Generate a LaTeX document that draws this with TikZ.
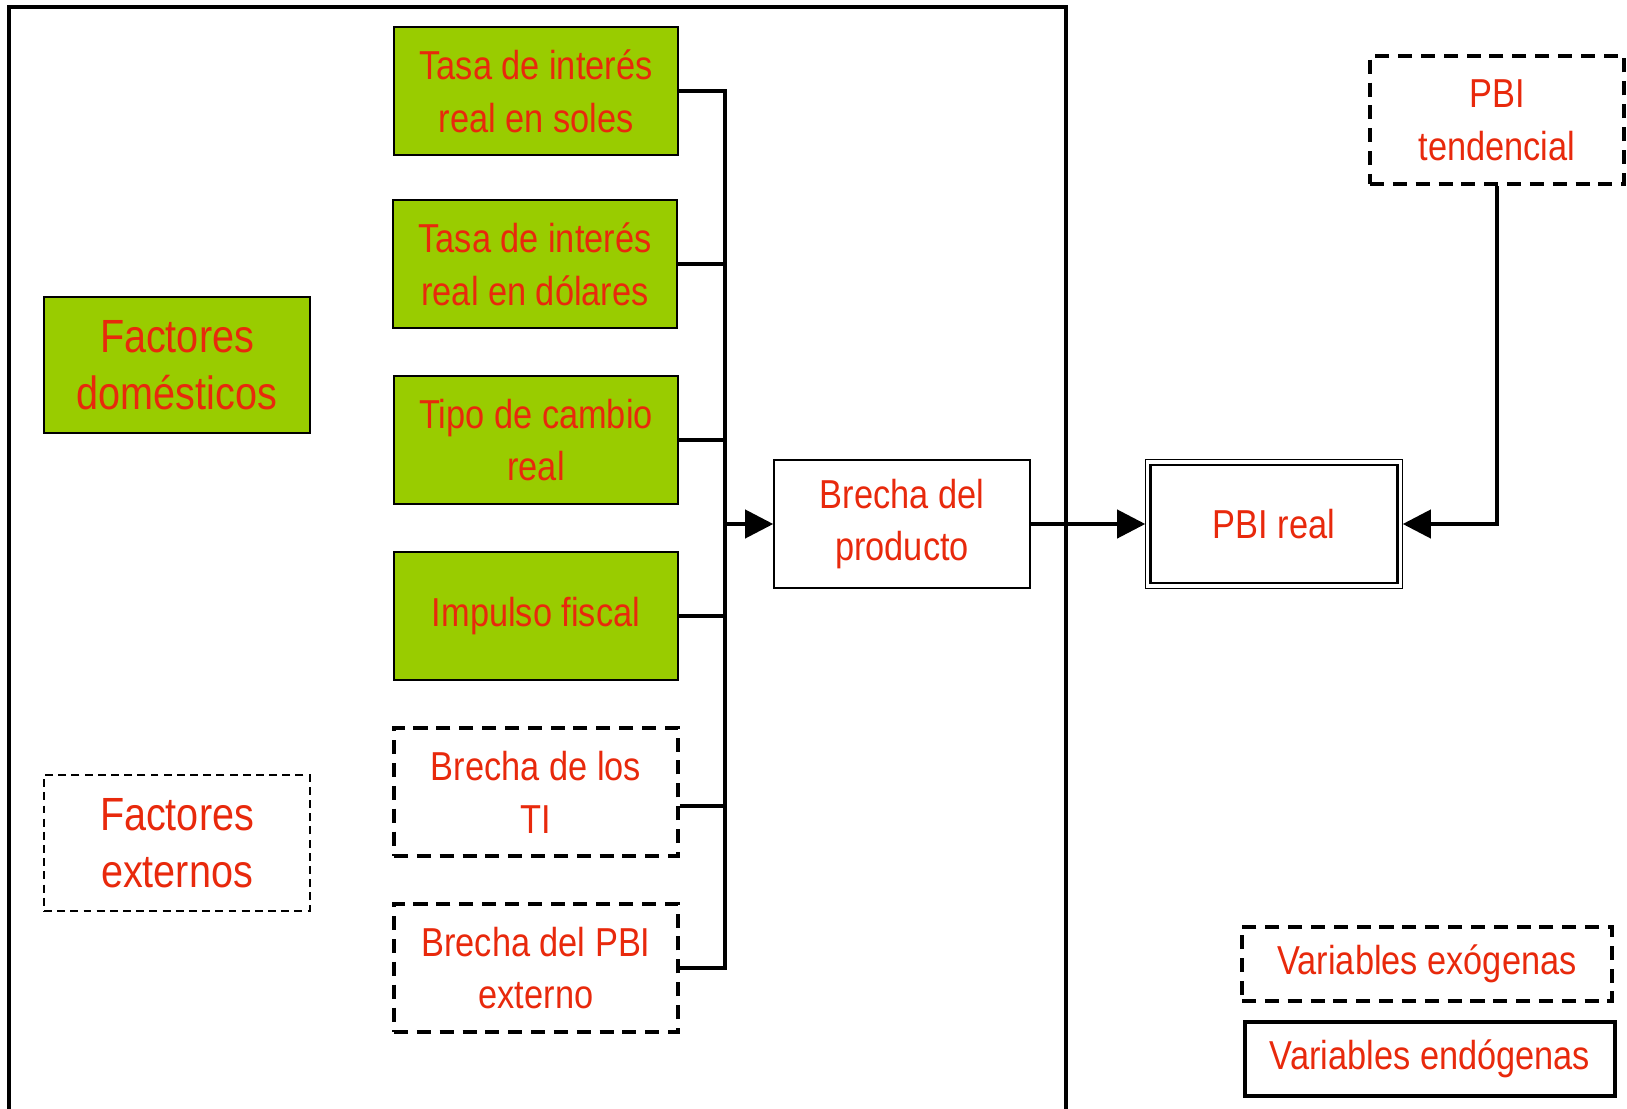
\documentclass[tikz,border=0pt]{standalone}
\usepackage{fontspec}
\setmainfont{Liberation Sans}[FakeStretch=0.85]
\usetikzlibrary{arrows.meta}
\definecolor{textred}{HTML}{E8290C}
\definecolor{boxgreen}{HTML}{99CC00}
\tikzstyle{block}=[rectangle, draw, inner sep=0pt, minimum width=5.68cm, minimum height=2.56cm, align=center, text=textred, font=\fontsize{23}{30}\selectfont]
\tikzstyle{greenbox}=[block, fill=boxgreen, line width=1.1pt]
\tikzstyle{exobox}=[block, line width=2.2pt, dash pattern=on 8pt off 5pt]
\tikzstyle{factor}=[block, minimum width=5.32cm, minimum height=2.72cm, font=\fontsize{26.5}{32.5}\selectfont]
\tikzstyle{legendbox}=[block, minimum width=7.4cm, minimum height=1.48cm, line width=2pt]
\tikzstyle{bus}=[line width=2.2pt, line join=miter]
\tikzstyle{arr}=[line width=2.2pt, line join=miter, -{Triangle[length=16pt,width=16pt]}]
\newcommand{\greenbox}{\node[greenbox]}
\newcommand{\exobox}{\node[exobox]}

\begin{document}
\begin{tikzpicture}[x=0.02cm, y=-0.02cm]
    \useasboundingbox (0,0) rectangle (1627,1109);
    % marco
    \draw[line width=2.3pt] (9,1120) -- (9,7) -- (1066,7) -- (1066,1120);
    % factores
    \node[factor, fill=boxgreen, line width=1.1pt] (fdom) at (177,365) {Factores\\dom\'esticos};
    \node[factor, line width=0.9pt, dash pattern=on 4.5pt off 3pt] (fext) at (177,843) {Factores\\externos};
    % variables
    \greenbox (tasasol) at (536,91) {Tasa de inter\'es\\real en soles};
    \greenbox (tasadol) at (535,264) {Tasa de inter\'es\\real en d\'olares};
    \greenbox (tcambio) at (536,440) {Tipo de cambio\\real};
    \greenbox (impulso) at (536,616) {Impulso fiscal};
    \exobox (brechati) at (536,792) {Brecha de los\\TI};
    \exobox (brechapbi) at (536,968) {Brecha del PBI\\externo};
    \node[block, minimum width=5.12cm, line width=0.9pt] (brecha) at (902,524) {Brecha del\\producto};
    \node[block, minimum width=4.94cm, minimum height=2.36cm, line width=1.6pt, outer sep=3pt] (pbireal) at (1274,524) {PBI real};
    \draw[line width=0.8pt] (pbireal.north west) rectangle (pbireal.south east);
    \exobox (pbitend) at (1497,120) [minimum width=5.08cm] {PBI\\tendencial};
    % leyenda
    \node[legendbox, dash pattern=on 8pt off 5pt] (lexo) at (1427,964) {Variables ex\'ogenas};
    \node[legendbox] (lendo) at (1430,1059) {Variables end\'ogenas};
    % conexiones
    \coordinate (bt) at (725,91);
    \coordinate (bb) at (725,968);
    \draw[bus] (tasasol.east) -- (bt) -- (bb) -- (brechapbi.east);
    \path[bus]
        (tasadol.east) edge (tasadol.east -| bt)
        (tcambio.east) edge (tcambio.east -| bt)
        (impulso.east) edge (impulso.east -| bt)
        ([yshift=-8pt]brechati.east) edge ([yshift=-8pt]brechati.east -| bt)
    ;
    \draw[arr] (bt |- brecha.west) -- (brecha.west);
    \draw[arr] (brecha.east) -- (pbireal.west);
    \draw[arr] (pbitend.south) |- (pbireal.east);
\end{tikzpicture}
\end{document}
